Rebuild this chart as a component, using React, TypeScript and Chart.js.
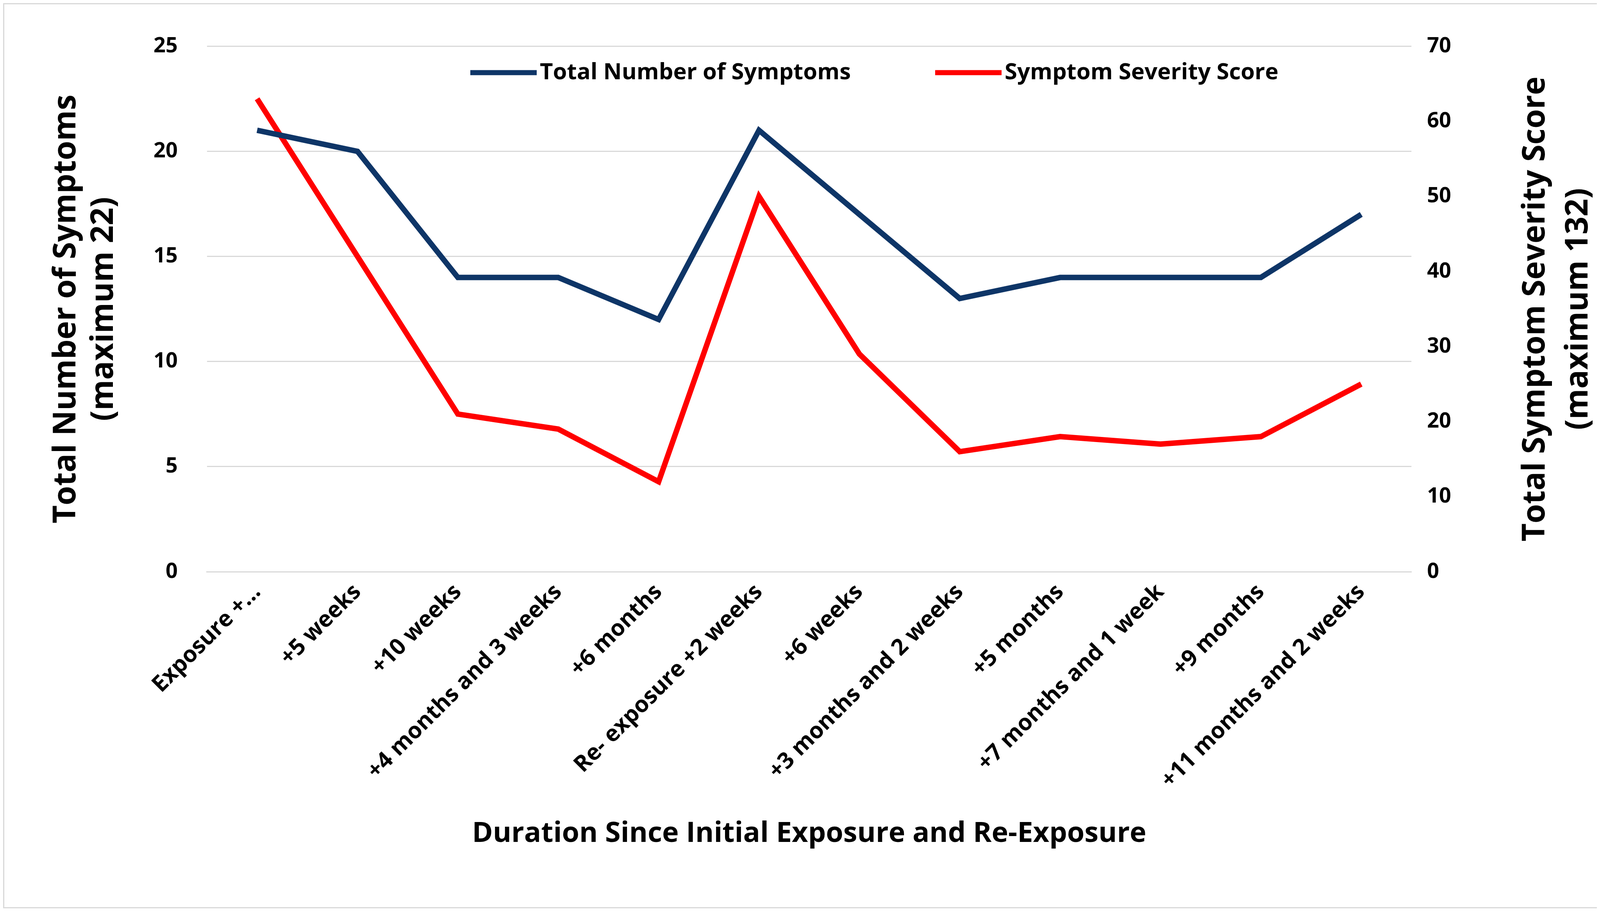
import React, { useEffect, useRef } from "react";
import { Chart, registerables } from "chart.js";
Chart.register(...registerables);

const categories = ["Exposure +...", "+5 weeks", "+10 weeks", "+4 months and 3 weeks", "+6 months", "Re- exposure +2 weeks", "+6 weeks", "+3 months and 2 weeks", "+5 months", "+7 months and 1 week", "+9 months", "+11 months and 2 weeks"];
const totalSymptoms = [21, 20, 14, 14, 12, 21, 17, 13, 14, 14, 14, 17];
const severityScore = [63, 42, 21, 19, 12, 50, 29, 16, 18, 17, 18, 25];
const rightTitle = ["Total Symptom Severity Score", "(maximum 132)"];

const font = "'Open Sans', 'Liberation Sans', sans-serif";

const overlay = {
  id: "overlay",
  afterDraw(chart: any) {
    const ctx = chart.ctx;
    ctx.save();
    // legend
    const items = chart.data.datasets.map((d: any) => ({ label: d.label, color: d.borderColor }));
    const starts = [1193, 2383];
    ctx.font = `bold 58px ${font}`;
    ctx.textBaseline = "middle";
    ctx.textAlign = "left";
    items.forEach((it: any, i: number) => {
      const x = starts[i];
      const y = 175;
      ctx.strokeStyle = it.color;
      ctx.lineWidth = 13;
      ctx.beginPath();
      ctx.moveTo(x, y);
      ctx.lineTo(x + 170, y);
      ctx.stroke();
      ctx.fillStyle = "#000";
      ctx.fillText(it.label, x + 178, y);
    });
    // right title, reading bottom to top
    const area = chart.chartArea;
    const cy = (area.top + area.bottom) / 2;
    ctx.translate(3975, cy);
    ctx.rotate(-Math.PI / 2);
    ctx.textAlign = "center";
    ctx.font = `bold 80px ${font}`;
    ctx.fillText(rightTitle[0], 0, -55);
    ctx.fillText(rightTitle[1], 0, 55);
    ctx.restore();
  },
};

export default function App() {
  const ref = useRef<HTMLCanvasElement>(null);
  useEffect(() => {
    const chart = new Chart(ref.current!, {
      type: "line",
      data: {
        labels: categories,
        datasets: [
          { label: "Total Number of Symptoms", data: totalSymptoms, borderColor: "#0e3567", backgroundColor: "#0e3567", borderWidth: 14, pointRadius: 0, yAxisID: "y", tension: 0 },
          { label: "Symptom Severity Score", data: severityScore, borderColor: "#ff0000", backgroundColor: "#ff0000", borderWidth: 14, pointRadius: 0, yAxisID: "y1", tension: 0 },
        ],
      },
      options: {
        animation: false,
        responsive: true,
        maintainAspectRatio: false,
        layout: { padding: { left: 107, right: 400, top: 80, bottom: 140 } },
        plugins: {
          legend: { display: false },
          tooltip: { enabled: false },
        },
        scales: {
          x: {
            offset: true,
            grid: { display: false },
            border: { color: "#d9d9d9", width: 3 },
            ticks: { font: { family: font, size: 58, weight: "bold" }, color: "#000", minRotation: 45, maxRotation: 45, autoSkip: false, padding: 10 },
            title: { display: true, text: "Duration Since Initial Exposure and Re-Exposure", font: { family: font, size: 72, weight: "bold" }, color: "#000", padding: { top: 50 } },
          },
          y: {
            position: "left", min: 0, max: 25,
            ticks: { stepSize: 5, font: { family: font, size: 54, weight: "bold" }, color: "#000", padding: 75 },
            grid: { color: "#d9d9d9", lineWidth: 3, drawTicks: false },
            border: { display: false },
            title: { display: true, text: ["Total Number of Symptoms", "(maximum 22)"], font: { family: font, size: 80, weight: "bold" }, color: "#000" },
          },
          y1: {
            position: "right", min: 0, max: 70,
            ticks: { stepSize: 10, font: { family: font, size: 54, weight: "bold" }, color: "#000", padding: 40 },
            grid: { display: false, drawTicks: false },
            border: { display: false },
          },
        },
      },
      plugins: [overlay],
    });
    return () => chart.destroy();
  }, []);
  return (
    <div style={{ width: 4150, height: 2318, border: "3px solid #d9d9d9", background: "#fff", boxSizing: "border-box" }}>
      <canvas ref={ref} />
    </div>
  );
}
